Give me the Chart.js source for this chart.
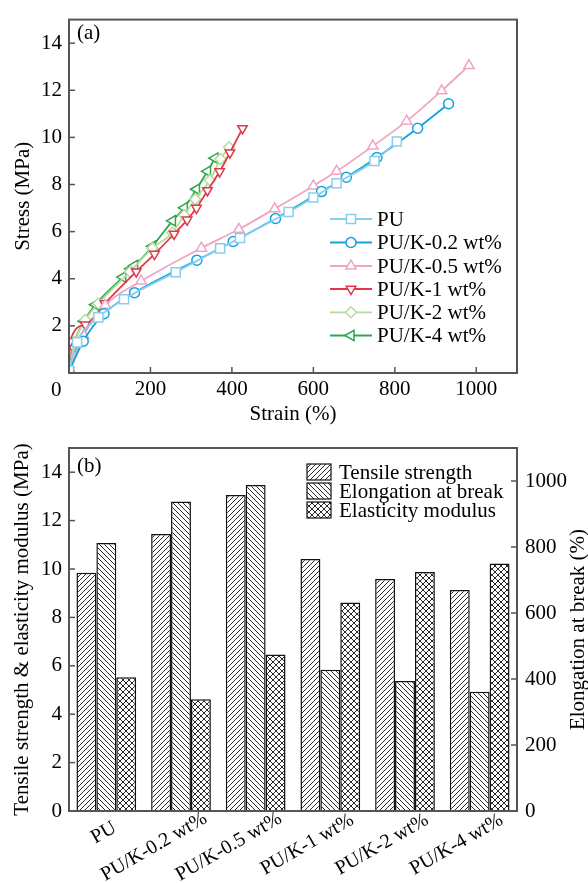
<!DOCTYPE html>
<html>
<head>
<meta charset="utf-8">
<script src="https://cdn.jsdelivr.net/npm/chart.js@4/dist/chart.umd.min.js"></script>
<style>
  html, body { margin: 0; padding: 0; background: #fff; }
  #wrap { position: relative; width: 588px; height: 883px; }
  #c1 { position: absolute; left: 0; top: 0; }
  #c2 { position: absolute; left: 0; top: 425px; }
</style>
</head>
<body>
<div id="wrap">
  <canvas id="c1" width="588" height="430"></canvas>
  <canvas id="c2" width="588" height="458"></canvas>
</div>
<script>
// ---- (a) stress-strain curves: [strain %, stress MPa]
const curvePU   = [[0,0.1],[20,1.3],[72,2.36],[135,3.13],[262,4.28],[371,5.29],[420,5.73],[539,6.83],[600,7.45],[657,8.05],[750,9.0],[805,9.83]];
const curveK02  = [[0,0.05],[35,1.35],[86,2.52],[161,3.41],[314,4.79],[403,5.58],[507,6.56],[620,7.7],[681,8.31],[756,9.15],[856,10.39],[932,11.43]];
const curveK05  = [[0,0.1],[36,1.6],[89,2.88],[177,3.9],[325,5.3],[417,6.1],[505,6.97],[600,7.94],[657,8.56],[746,9.63],[829,10.69],[915,11.98],[982,13.05]];
const curveK1   = [[0,0.1],[3,1.35],[40,2.05],[88,2.95],[165,4.3],[210,5.05],[258,5.9],[290,6.5],[313,7.0],[340,7.75],[370,8.55],[395,9.35],[426,10.38]];
const curveK2   = [[0,0.1],[14,1.3],[40,2.25],[72,2.95],[150,4.3],[205,5.3],[254,5.95],[283,6.7],[310,7.38],[346,8.18],[372,9.08],[393,9.58]];
const curveK4   = [[0,0.1],[10,1.1],[37,2.2],[65,2.9],[132,4.07],[151,4.42],[161,4.56],[205,5.38],[254,6.46],[283,7.01],[313,7.8],[340,8.56],[358,9.12]];
const curveNames = ['PU', 'PU/K-0.2 wt%', 'PU/K-0.5 wt%', 'PU/K-1 wt%', 'PU/K-2 wt%', 'PU/K-4 wt%'];
const strainTicks = [0, 200, 400, 600, 800, 1000];
const stressTicks = [0, 2, 4, 6, 8, 10, 12, 14];

// ---- (b) bar chart
const samples         = ['PU', 'PU/K-0.2 wt%', 'PU/K-0.5 wt%', 'PU/K-1 wt%', 'PU/K-2 wt%', 'PU/K-4 wt%'];
const tensileStrength = [9.85, 11.45, 13.06, 10.41, 9.59, 9.13];   // MPa
const elongation      = [812, 938, 988, 428, 394, 361];             // %
const elasticModulus  = [5.53, 4.62, 6.47, 8.62, 9.88, 10.23];      // MPa
const barNames = ['Tensile strength', 'Elongation at break', 'Elasticity modulus'];
const mpaTicks = [0, 2, 4, 6, 8, 10, 12, 14];
const elongTicks = [0, 200, 400, 600, 800, 1000];

const FONT = "'Liberation Serif', 'Times New Roman', serif";
Chart.defaults.font.family = FONT;
Chart.defaults.color = '#000';
const AXIS = '#555';
const f = size => ({family: FONT, size: size});

function toXY(arr) { return arr.map(p => ({x: p[0], y: p[1]})); }
function fixedTicks(list) { return s => { s.ticks = list.map(v => ({value: v})); }; }

// frame + inward ticks
function framePlugin(tickDefs) {
  return {
    id: 'frame',
    afterDraw(chart) {
      const ctx = chart.ctx, a = chart.chartArea;
      ctx.save();
      ctx.strokeStyle = AXIS;
      ctx.lineWidth = 1.5;
      tickDefs.forEach(d => {
        const s = chart.scales[d.id];
        s.ticks.forEach(t => {
          const p = s.getPixelForValue(t.value);
          ctx.beginPath();
          if (d.side === 'bottom') { ctx.moveTo(p, a.bottom); ctx.lineTo(p, a.bottom - 6); }
          if (d.side === 'left')   { ctx.moveTo(a.left, p); ctx.lineTo(a.left + 6, p); }
          if (d.side === 'right')  { ctx.moveTo(a.right, p); ctx.lineTo(a.right - 6, p); }
          ctx.stroke();
        });
      });
      ctx.lineWidth = 2;
      ctx.strokeRect(a.left, a.top, a.right - a.left, a.bottom - a.top);
      ctx.restore();
    }
  };
}

// ---------------- panel (a)
const lineStyles = [
  {color: '#86cef0', style: 'rect',     rot: 0,   r: 6.4},
  {color: '#16a2dc', style: 'circle',   rot: 0,   r: 5},
  {color: '#f0a6c2', style: 'triangle', rot: 0,   r: 6},
  {color: '#e03a4a', style: 'triangle', rot: 180, r: 5.5},
  {color: '#b5dba0', style: 'rectRot',  rot: 0,   r: 5.5},
  {color: '#2ea64a', style: 'triangle', rot: -90, r: 6}
];
const curves = [curvePU, curveK02, curveK05, curveK1, curveK2, curveK4];

const legendA = {
  id: 'legendA',
  afterDraw(chart) {
    const ctx = chart.ctx;
    ctx.save();
    ctx.font = '21px ' + FONT;
    ctx.textBaseline = 'middle';
    ctx.fillStyle = '#000';
    ctx.fillText('(a)', 77, 33);
    ctx.fillText('0', 51, 390);
    const rows = [219, 242.5, 266, 289, 312.3, 335.5];
    lineStyles.forEach((st, i) => {
      const y = rows[i];
      ctx.strokeStyle = st.color;
      ctx.lineWidth = 1.8;
      ctx.beginPath(); ctx.moveTo(330, y); ctx.lineTo(372, y); ctx.stroke();
      ctx.fillStyle = '#fff';
      ctx.lineWidth = 1.5;
      Chart.helpers.drawPoint(ctx, {pointStyle: st.style, rotation: st.rot, radius: st.r, borderWidth: 1.5}, 351, y);
      ctx.fillStyle = '#000';
      ctx.fillText(curveNames[i], 377, y + 1);
    });
    ctx.restore();
  }
};

new Chart(document.getElementById('c1'), {
  type: 'scatter',
  data: {
    datasets: curves.map((c, i) => ({
      label: curveNames[i],
      data: toXY(c),
      showLine: true,
      borderColor: lineStyles[i].color,
      borderWidth: 1.8,
      cubicInterpolationMode: 'monotone',
      pointStyle: lineStyles[i].style,
      pointRotation: lineStyles[i].rot,
      pointRadius: lineStyles[i].r,
      pointBorderWidth: 1.5,
      pointBackgroundColor: '#fff',
      pointBorderColor: lineStyles[i].color
    }))
  },
  options: {
    responsive: false,
    animation: false,
    devicePixelRatio: 1,
    layout: {padding: {top: 12, right: 71, left: 0, bottom: 0}},
    plugins: {legend: {display: false}, tooltip: {enabled: false}},
    scales: {
      x: {
        type: 'linear', min: 0, max: 1100,
        afterBuildTicks: fixedTicks(strainTicks),
        afterFit: s => { s.height = 57; },
        grid: {display: false, drawTicks: false},
        border: {display: false},
        ticks: {padding: 4, autoSkip: false, maxRotation: 0, font: f(21), callback: v => v === 0 ? '' : String(v)},
        title: {display: true, text: 'Strain (%)', font: f(21), padding: {top: 0, bottom: 3}}
      },
      y: {
        min: 0, max: 15,
        afterBuildTicks: fixedTicks(stressTicks),
        afterFit: s => { s.width = 69; },
        grid: {display: false, drawTicks: false},
        border: {display: false},
        ticks: {padding: 7, autoSkip: false, font: f(21), callback: v => v === 0 ? '' : String(v)},
        title: {display: true, text: 'Stress (MPa)', font: f(21), padding: {top: 11, bottom: 0}}
      }
    }
  },
  plugins: [framePlugin([{id: 'x', side: 'bottom'}, {id: 'y', side: 'left'}]), legendA]
});

// ---------------- panel (b)
function hatch(kind) {
  const s = kind === 'cross' ? 6 : 5;
  const c = document.createElement('canvas');
  c.width = s; c.height = s;
  const g = c.getContext('2d');
  g.fillStyle = '#fff'; g.fillRect(0, 0, s, s);
  g.strokeStyle = '#111'; g.lineWidth = 0.9;
  const fwd = () => {
    g.beginPath();
    g.moveTo(0, s); g.lineTo(s, 0);
    g.moveTo(-1, 1); g.lineTo(1, -1);
    g.moveTo(s - 1, s + 1); g.lineTo(s + 1, s - 1);
    g.stroke();
  };
  const back = () => {
    g.beginPath();
    g.moveTo(0, 0); g.lineTo(s, s);
    g.moveTo(-1, s - 1); g.lineTo(1, s + 1);
    g.moveTo(s - 1, -1); g.lineTo(s + 1, 1);
    g.stroke();
  };
  if (kind === 'fwd') fwd();
  else if (kind === 'back') back();
  else { fwd(); back(); }
  return g.createPattern(c, 'repeat');
}
const fills = [hatch('fwd'), hatch('back'), hatch('cross')];

const legendB = {
  id: 'legendB',
  afterDraw(chart) {
    const ctx = chart.ctx;
    const a = chart.chartArea;
    const xs = chart.scales.x;
    ctx.save();
    ctx.font = '21px ' + FONT;
    ctx.textBaseline = 'middle';
    ctx.fillStyle = '#000';
    ctx.fillText('(b)', 77, 41);
    const rows = [47, 66, 85];
    rows.forEach((y, i) => {
      ctx.fillStyle = fills[i];
      ctx.fillRect(307, y - 8, 24, 16);
      ctx.strokeStyle = '#111';
      ctx.lineWidth = 1.2;
      ctx.strokeRect(307, y - 8, 24, 16);
      ctx.fillStyle = '#000';
      ctx.fillText(barNames[i], 339, y + 1);
    });
    // rotated category labels
    ctx.font = '20px ' + FONT;
    samples.forEach((lab, i) => {
      const w = ctx.measureText(lab).width;
      ctx.save();
      ctx.translate(xs.getPixelForValue(i) + 4, a.bottom + 18);
      ctx.rotate(-Math.PI / 6);
      ctx.textAlign = 'left';
      ctx.fillText(lab, -0.8 * w, 0);
      ctx.restore();
    });
    // right axis title, reading bottom to top
    ctx.font = '21px ' + FONT;
    ctx.translate(578, (a.top + a.bottom) / 2);
    ctx.rotate(-Math.PI / 2);
    ctx.textAlign = 'center';
    ctx.fillText('Elongation at break (%)', 0, 0);
    ctx.restore();
  }
};

new Chart(document.getElementById('c2'), {
  type: 'bar',
  data: {
    labels: samples,
    datasets: [
      {label: barNames[0], data: tensileStrength, yAxisID: 'y',  backgroundColor: fills[0]},
      {label: barNames[1], data: elongation,      yAxisID: 'y1', backgroundColor: fills[1]},
      {label: barNames[2], data: elasticModulus,  yAxisID: 'y',  backgroundColor: fills[2]}
    ].map(d => Object.assign(d, {
      borderColor: '#111', borderWidth: 1.5, categoryPercentage: 0.8, barPercentage: 1
    }))
  },
  options: {
    responsive: false,
    animation: false,
    devicePixelRatio: 1,
    layout: {padding: {top: 23, right: 0, left: 0, bottom: 0}},
    plugins: {legend: {display: false}, tooltip: {enabled: false}},
    scales: {
      x: {
        afterFit: s => { s.height = 72; },
        grid: {display: false, drawTicks: false},
        border: {display: false},
        ticks: {display: false}
      },
      y: {
        min: 0, max: 15,
        afterBuildTicks: fixedTicks(mpaTicks),
        afterFit: s => { s.width = 69; },
        grid: {display: false, drawTicks: false},
        border: {display: false},
        ticks: {padding: 7, autoSkip: false, font: f(21), callback: v => String(v)},
        title: {display: true, text: 'Tensile strength & elasticity modulus (MPa)', font: f(21), padding: {top: 10, bottom: 0}}
      },
      y1: {
        position: 'right',
        min: 0, max: 1100,
        afterBuildTicks: fixedTicks(elongTicks),
        afterFit: s => { s.width = 71; },
        grid: {display: false, drawTicks: false},
        border: {display: false},
        ticks: {padding: 8, autoSkip: false, font: f(21), callback: v => String(v)}
      }
    }
  },
  plugins: [framePlugin([{id: 'y', side: 'left'}, {id: 'y1', side: 'right'}]), legendB]
});
</script>
</body>
</html>
